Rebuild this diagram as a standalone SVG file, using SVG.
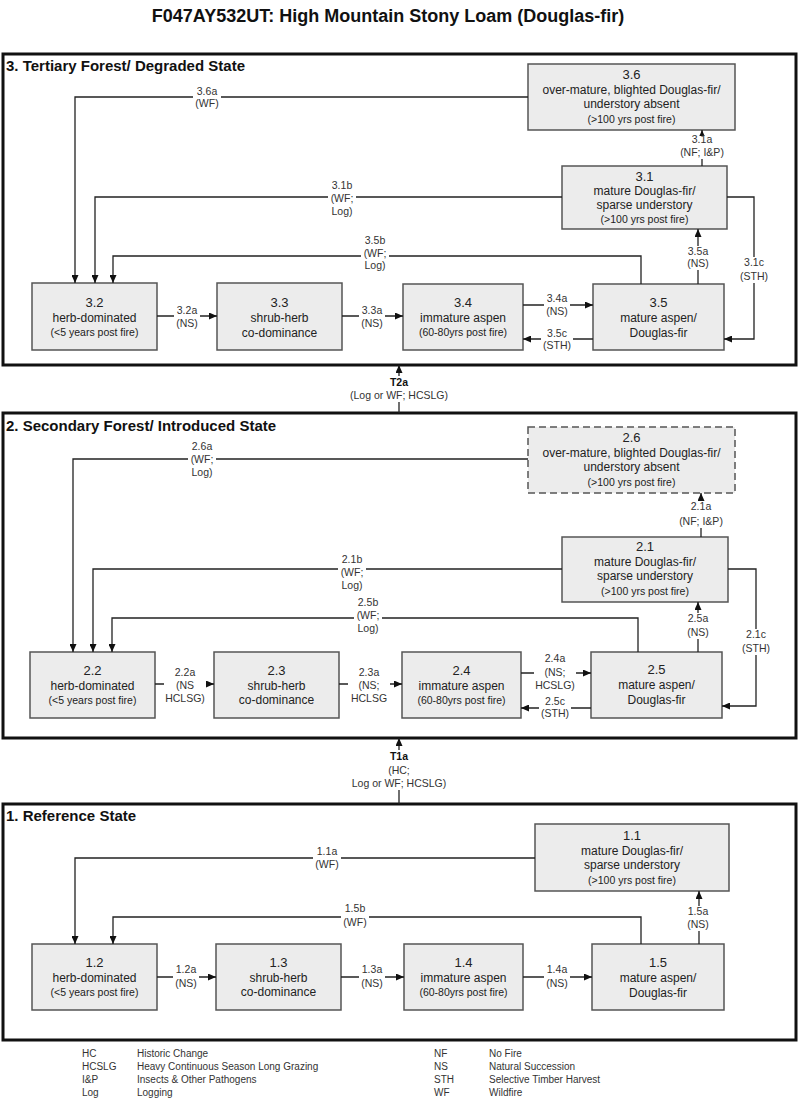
<svg xmlns="http://www.w3.org/2000/svg" width="800" height="1100" viewBox="0 0 800 1100">
<defs>
<marker id="ah" markerUnits="userSpaceOnUse" markerWidth="8" markerHeight="7" refX="8" refY="3.5" orient="auto">
<path d="M0,0 L8,3.5 L0,7 z" fill="#111"/>
</marker>
<style>
text{font-family:"Liberation Sans",Arial,sans-serif}
.title{font-size:18px;font-weight:bold;fill:#111;text-anchor:middle}
.state{fill:none;stroke:#111;stroke-width:3}
.st{font-size:15px;font-weight:bold;fill:#111}
.node rect{fill:#ececec;stroke:#555;stroke-width:1.5}
.node rect.dash{stroke-dasharray:7,4}
.node text{text-anchor:middle;fill:#222}
.n{font-size:13px}
.t{font-size:12px}
.s{font-size:10.5px}
.ln{fill:none;stroke:#222;stroke-width:1.3;marker-end:url(#ah)}
.bg{fill:#fff}
.lb{font-size:10.5px;fill:#333;text-anchor:middle}
.lbb{font-size:10.5px;fill:#111;font-weight:bold;text-anchor:middle}
.lg{font-size:10px;fill:#333}
</style>
</defs>
<rect width="800" height="1100" fill="#fff"/>
<text class="title" x="388" y="22">F047AY532UT: High Mountain Stony Loam (Douglas-fir)</text>

<g id="states">
<rect class="state" x="3" y="54" width="793" height="311"/>
<text class="st" x="6" y="71">3. Tertiary Forest/ Degraded State</text>
<rect class="state" x="3" y="413" width="793" height="325"/>
<text class="st" x="6" y="431">2. Secondary Forest/ Introduced State</text>
<rect class="state" x="3" y="804" width="793" height="236"/>
<text class="st" x="6" y="821">1. Reference State</text>
</g>

<g id="node-3.6" class="node"><rect x="528" y="64" width="207" height="66"/>
<text class="n" x="631.5" y="79">3.6</text><text class="t" x="631.5" y="94">over-mature, blighted Douglas-fir/</text><text class="t" x="631.5" y="108">understory absent</text><text class="s" x="631.5" y="123">(&gt;100 yrs post fire)</text></g>
<g id="node-3.1" class="node"><rect x="562" y="166" width="165" height="63"/>
<text class="n" x="644.5" y="181">3.1</text><text class="t" x="644.5" y="195">mature Douglas-fir/</text><text class="t" x="644.5" y="209">sparse understory</text><text class="s" x="644.5" y="223">(&gt;100 yrs post fire)</text></g>
<g id="node-3.2" class="node"><rect x="32" y="283" width="125" height="67"/>
<text class="n" x="94.5" y="307">3.2</text><text class="t" x="94.5" y="322">herb-dominated</text><text class="s" x="94.5" y="336">(&lt;5 years post fire)</text></g>
<g id="node-3.3" class="node"><rect x="217" y="283" width="125" height="67"/>
<text class="n" x="279.5" y="307">3.3</text><text class="t" x="279.5" y="322">shrub-herb</text><text class="t" x="279.5" y="337">co-dominance</text></g>
<g id="node-3.4" class="node"><rect x="403" y="284" width="120" height="66"/>
<text class="n" x="463" y="307">3.4</text><text class="t" x="463" y="322">immature aspen</text><text class="s" x="463" y="336">(60-80yrs post fire)</text></g>
<g id="node-3.5" class="node"><rect x="593" y="284" width="131" height="66"/>
<text class="n" x="658.5" y="307">3.5</text><text class="t" x="658.5" y="322">mature aspen/</text><text class="t" x="658.5" y="337">Douglas-fir</text></g>

<g id="node-2.6" class="node"><rect class="dash" x="528" y="427" width="207" height="66"/>
<text class="n" x="631.5" y="442">2.6</text><text class="t" x="631.5" y="457">over-mature, blighted Douglas-fir/</text><text class="t" x="631.5" y="471">understory absent</text><text class="s" x="631.5" y="486">(&gt;100 yrs post fire)</text></g>
<g id="node-2.1" class="node"><rect x="562" y="537" width="166" height="65"/>
<text class="n" x="645" y="551">2.1</text><text class="t" x="645" y="566">mature Douglas-fir/</text><text class="t" x="645" y="580">sparse understory</text><text class="s" x="645" y="595">(&gt;100 yrs post fire)</text></g>
<g id="node-2.2" class="node"><rect x="30" y="652" width="125" height="66"/>
<text class="n" x="92.5" y="675">2.2</text><text class="t" x="92.5" y="690">herb-dominated</text><text class="s" x="92.5" y="704">(&lt;5 years post fire)</text></g>
<g id="node-2.3" class="node"><rect x="214" y="652" width="125" height="66"/>
<text class="n" x="276.5" y="675">2.3</text><text class="t" x="276.5" y="690">shrub-herb</text><text class="t" x="276.5" y="704">co-dominance</text></g>
<g id="node-2.4" class="node"><rect x="402" y="652" width="119" height="66"/>
<text class="n" x="461.5" y="675">2.4</text><text class="t" x="461.5" y="690">immature aspen</text><text class="s" x="461.5" y="704">(60-80yrs post fire)</text></g>
<g id="node-2.5" class="node"><rect x="591" y="652" width="131" height="66"/>
<text class="n" x="656.5" y="674">2.5</text><text class="t" x="656.5" y="689">mature aspen/</text><text class="t" x="656.5" y="704">Douglas-fir</text></g>

<g id="node-1.1" class="node"><rect x="535" y="824" width="194" height="67"/>
<text class="n" x="632" y="840">1.1</text><text class="t" x="632" y="855">mature Douglas-fir/</text><text class="t" x="632" y="869">sparse understory</text><text class="s" x="632" y="884">(&gt;100 yrs post fire)</text></g>
<g id="node-1.2" class="node"><rect x="32" y="944" width="125" height="66"/>
<text class="n" x="94.5" y="967">1.2</text><text class="t" x="94.5" y="982">herb-dominated</text><text class="s" x="94.5" y="996">(&lt;5 years post fire)</text></g>
<g id="node-1.3" class="node"><rect x="216" y="944" width="125" height="66"/>
<text class="n" x="278.5" y="967">1.3</text><text class="t" x="278.5" y="982">shrub-herb</text><text class="t" x="278.5" y="996">co-dominance</text></g>
<g id="node-1.4" class="node"><rect x="404" y="944" width="119" height="66"/>
<text class="n" x="463.5" y="967">1.4</text><text class="t" x="463.5" y="982">immature aspen</text><text class="s" x="463.5" y="996">(60-80yrs post fire)</text></g>
<g id="node-1.5" class="node"><rect x="592" y="944" width="132" height="66"/>
<text class="n" x="658" y="967">1.5</text><text class="t" x="658" y="982">mature aspen/</text><text class="t" x="658" y="997">Douglas-fir</text></g>

<g id="connectors">
<path class="ln" d="M528,97 H75 V283"/>
<path class="ln" d="M562,197 H95 V283"/>
<path class="ln" d="M641,284 V256 H113 V283"/>
<path class="ln" d="M157,316 H217"/>
<path class="ln" d="M342,316 H403"/>
<path class="ln" d="M523,305 H593"/>
<path class="ln" d="M593,339 H523"/>
<path class="ln" d="M698,284 V229"/>
<path class="ln" d="M702,166 V130"/>
<path class="ln" d="M727,197 H754 V339 H724"/>
<path class="ln" d="M399,413 V365"/>
<path class="ln" d="M528,459 H73 V652"/>
<path class="ln" d="M562,569 H93 V652"/>
<path class="ln" d="M638,652 V618 H112 V652"/>
<path class="ln" d="M155,684 H214"/>
<path class="ln" d="M339,684 H402"/>
<path class="ln" d="M521,673 H591"/>
<path class="ln" d="M591,708 H521"/>
<path class="ln" d="M698,652 V602"/>
<path class="ln" d="M701,537 V493"/>
<path class="ln" d="M728,569 H756 V706 H722"/>
<path class="ln" d="M399,804 V738"/>
<path class="ln" d="M535,858 H75 V944"/>
<path class="ln" d="M641,944 V917 H113 V944"/>
<path class="ln" d="M699,944 V891"/>
<path class="ln" d="M157,977 H216"/>
<path class="ln" d="M341,977 H404"/>
<path class="ln" d="M523,977 H592"/>
</g>

<g id="labels">
<rect class="bg" x="193" y="86" width="28" height="24"/><text class="lb" x="207" y="95">3.6a</text><text class="lb" x="207" y="107">(WF)</text>
<rect class="bg" x="328" y="180" width="28" height="38"/><text class="lb" x="342" y="189">3.1b</text><text class="lb" x="342" y="202">(WF;</text><text class="lb" x="342" y="215">Log)</text>
<rect class="bg" x="361" y="235" width="28" height="37"/><text class="lb" x="375" y="244">3.5b</text><text class="lb" x="375" y="256.5">(WF;</text><text class="lb" x="375" y="269">Log)</text>
<rect class="bg" x="174" y="305" width="26" height="25"/><text class="lb" x="187" y="314">3.2a</text><text class="lb" x="187" y="327">(NS)</text>
<rect class="bg" x="359" y="305" width="26" height="25"/><text class="lb" x="372" y="314">3.3a</text><text class="lb" x="372" y="327">(NS)</text>
<rect class="bg" x="544" y="293" width="26" height="25"/><text class="lb" x="557" y="302">3.4a</text><text class="lb" x="557" y="315">(NS)</text>
<rect class="bg" x="541" y="328" width="32" height="24"/><text class="lb" x="557" y="337">3.5c</text><text class="lb" x="557" y="349">(STH)</text>
<rect class="bg" x="685" y="246" width="26" height="24"/><text class="lb" x="698" y="255">3.5a</text><text class="lb" x="698" y="267">(NS)</text>
<rect class="bg" x="679" y="136" width="46" height="23"/><text class="lb" x="702" y="143">3.1a</text><text class="lb" x="702" y="156">(NF; I&amp;P)</text>
<rect class="bg" x="738" y="257" width="32" height="26"/><text class="lb" x="754" y="266">3.1c</text><text class="lb" x="754" y="280">(STH)</text>
<rect class="bg" x="349" y="376" width="100" height="26"/><text class="lbb" x="399" y="386">T2a</text><text class="lb" x="399" y="399">(Log or WF; HCSLG)</text>

<rect class="bg" x="188" y="441" width="28" height="38"/><text class="lb" x="202" y="450">2.6a</text><text class="lb" x="202" y="463">(WF;</text><text class="lb" x="202" y="476">Log)</text>
<rect class="bg" x="338" y="554" width="28" height="38"/><text class="lb" x="352" y="563">2.1b</text><text class="lb" x="352" y="576">(WF;</text><text class="lb" x="352" y="589">Log)</text>
<rect class="bg" x="354" y="597" width="28" height="38"/><text class="lb" x="368" y="606">2.5b</text><text class="lb" x="368" y="619">(WF;</text><text class="lb" x="368" y="632">Log)</text>
<rect class="bg" x="164" y="667" width="42" height="38"/><text class="lb" x="185" y="676">2.2a</text><text class="lb" x="185" y="689">(NS</text><text class="lb" x="185" y="702">HCLSG)</text>
<rect class="bg" x="348" y="667" width="42" height="38"/><text class="lb" x="369" y="676">2.3a</text><text class="lb" x="369" y="689">(NS;</text><text class="lb" x="369" y="702">HCLSG</text>
<rect class="bg" x="534" y="653" width="42" height="39"/><text class="lb" x="555" y="662">2.4a</text><text class="lb" x="555" y="676">(NS;</text><text class="lb" x="555" y="689">HCSLG)</text>
<rect class="bg" x="539" y="696" width="32" height="24"/><text class="lb" x="555" y="705">2.5c</text><text class="lb" x="555" y="717">(STH)</text>
<rect class="bg" x="685" y="613" width="26" height="26"/><text class="lb" x="698" y="622">2.5a</text><text class="lb" x="698" y="636">(NS)</text>
<rect class="bg" x="678" y="501" width="46" height="27"/><text class="lb" x="701" y="510">2.1a</text><text class="lb" x="701" y="525">(NF; I&amp;P)</text>
<rect class="bg" x="740" y="629" width="32" height="26"/><text class="lb" x="756" y="638">2.1c</text><text class="lb" x="756" y="652">(STH)</text>
<rect class="bg" x="350" y="750" width="98" height="40"/><text class="lbb" x="399" y="760">T1a</text><text class="lb" x="399" y="774">(HC;</text><text class="lb" x="399" y="787">Log or WF; HCSLG)</text>

<rect class="bg" x="313" y="846" width="28" height="25"/><text class="lb" x="327" y="855">1.1a</text><text class="lb" x="327" y="868">(WF)</text>
<rect class="bg" x="341" y="903" width="28" height="26"/><text class="lb" x="355" y="912">1.5b</text><text class="lb" x="355" y="926">(WF)</text>
<rect class="bg" x="685" y="906" width="26" height="25"/><text class="lb" x="698" y="915">1.5a</text><text class="lb" x="698" y="928">(NS)</text>
<rect class="bg" x="173" y="964" width="26" height="26"/><text class="lb" x="186" y="973">1.2a</text><text class="lb" x="186" y="987">(NS)</text>
<rect class="bg" x="359" y="964" width="26" height="26"/><text class="lb" x="372" y="973">1.3a</text><text class="lb" x="372" y="987">(NS)</text>
<rect class="bg" x="544" y="964" width="26" height="26"/><text class="lb" x="557" y="973">1.4a</text><text class="lb" x="557" y="987">(NS)</text>
</g>

<g id="legend">
<text class="lg" x="82" y="1057">HC</text><text class="lg" x="137" y="1057">Historic Change</text>
<text class="lg" x="82" y="1070">HCSLG</text><text class="lg" x="137" y="1070">Heavy Continuous Season Long Grazing</text>
<text class="lg" x="82" y="1083">I&amp;P</text><text class="lg" x="137" y="1083">Insects &amp; Other Pathogens</text>
<text class="lg" x="82" y="1096">Log</text><text class="lg" x="137" y="1096">Logging</text>
<text class="lg" x="434" y="1057">NF</text><text class="lg" x="489" y="1057">No Fire</text>
<text class="lg" x="434" y="1070">NS</text><text class="lg" x="489" y="1070">Natural Succession</text>
<text class="lg" x="434" y="1083">STH</text><text class="lg" x="489" y="1083">Selective Timber Harvest</text>
<text class="lg" x="434" y="1096">WF</text><text class="lg" x="489" y="1096">Wildfire</text>
</g>
</svg>
